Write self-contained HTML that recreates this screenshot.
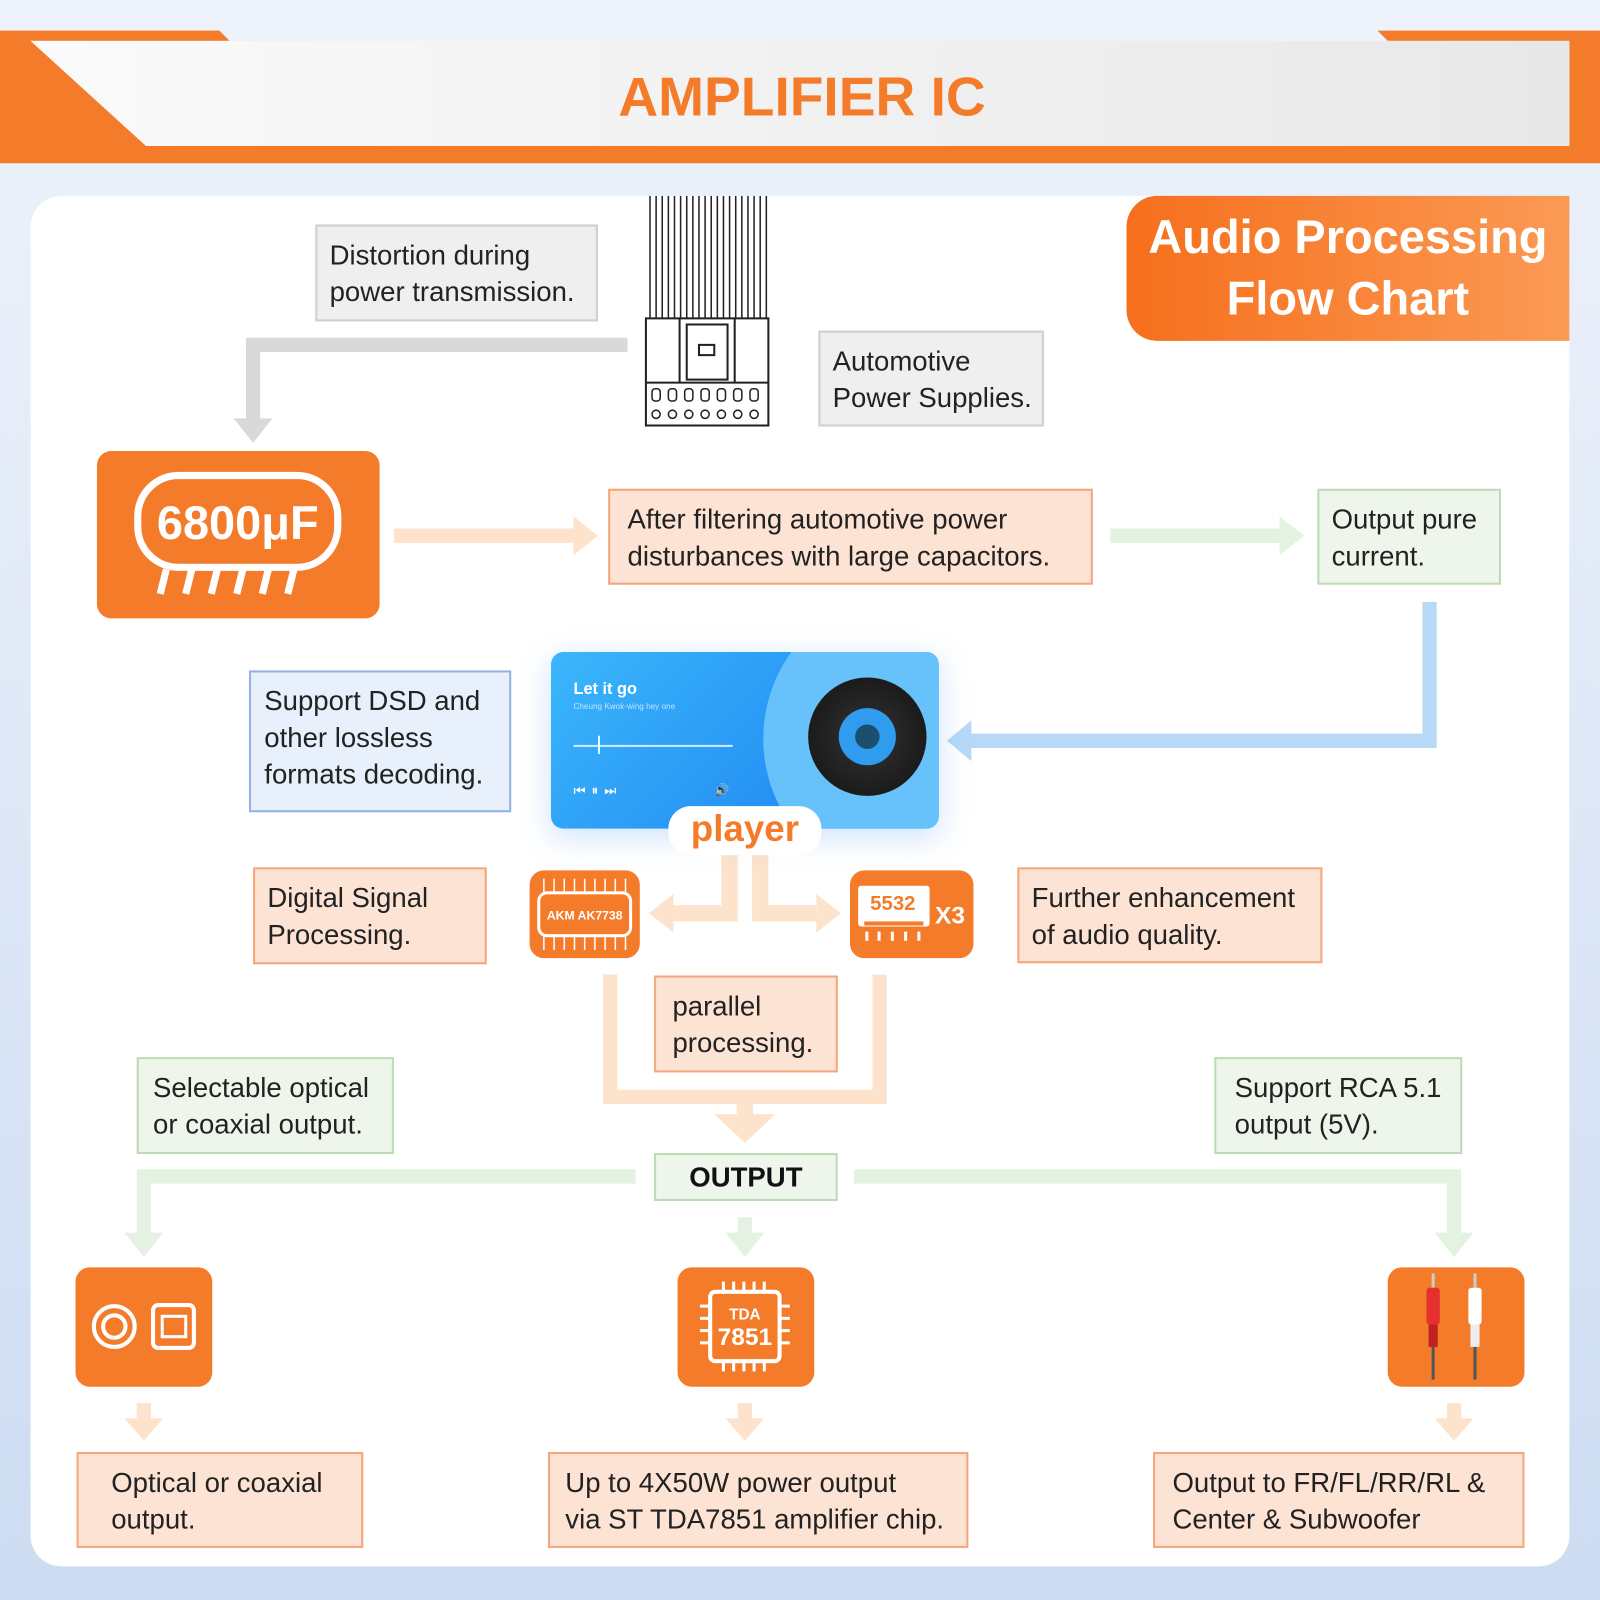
<!DOCTYPE html>
<html><head><meta charset="utf-8">
<style>
html,body{margin:0;padding:0;width:1600px;height:1600px;overflow:hidden;}
body{background:linear-gradient(#eef3fb,#cddcf2);font-family:"Liberation Sans",sans-serif;}
#w{position:absolute;left:0;top:0;width:1568px;height:1568px;transform:scale(1.0204);transform-origin:0 0;}
.a{position:absolute;box-sizing:border-box;}
.box{position:absolute;box-sizing:border-box;border:2px solid;font-size:27px;line-height:36px;color:#222;padding:10px 0 0 12px;}
.pe{background:#fde3d3;border-color:#f4a77c;}
.gr{background:#eef6ec;border-color:#bcdcb5;}
.gy{background:#efefef;border-color:#cfcfcf;}
.bl{background:#e7f0fb;border-color:#93b3e0;}
.or{background:#f47b2a;border-radius:14px;position:absolute;}
</style></head><body><div id="w">
<svg class="a" style="left:0;top:0" width="1568" height="1568">
<defs><linearGradient id="hg" x1="0" y1="0" x2="1" y2="0"><stop offset="0" stop-color="#fafafa"/><stop offset="1" stop-color="#e8e8e8"/></linearGradient></defs>
<polygon points="0,30 215,30 225,40 30,40 143,143 1538,143 1538,40 1360,40 1350,30 1568,30 1568,160 0,160" fill="#f47b2a"/>
<polygon points="30,40 1538,40 1538,143 143,143" fill="url(#hg)"/>
<rect x="30" y="192" width="1508" height="1343" rx="30" fill="#fff"/>
<path d="M615,338 H248 V415" stroke="#d9d9d9" stroke-width="14" fill="none"/>
<polygon points="229,410 267,410 248,434" fill="#d9d9d9"/>
<rect x="386" y="518" width="180" height="14" fill="#fde3cc"/>
<polygon points="562,506 586,525 562,544" fill="#fde3cc"/>
<rect x="1088" y="518" width="170" height="14" fill="#e3f2e1"/>
<polygon points="1254,506 1278,525 1254,544" fill="#e3f2e1"/>
<path d="M1401,590 V726 H950" stroke="#b7d9f7" stroke-width="14" fill="none"/>
<polygon points="952,706 928,726 952,746" fill="#b7d9f7"/>
<path d="M715,838 V895 H660 M745,838 V895 H800" stroke="#fde3cc" stroke-width="16" fill="none"/>
<polygon points="660,876 636,895 660,914" fill="#fde3cc"/>
<polygon points="800,876 824,895 800,914" fill="#fde3cc"/>
<path d="M598,955 V1075 H862 V955" stroke="#fde3cc" stroke-width="14" fill="none"/>
<rect x="722" y="1068" width="16" height="28" fill="#fde3cc"/>
<polygon points="700,1092 760,1092 730,1120" fill="#fde3cc"/>
<path d="M623,1153 H141 V1212 M837,1153 H1425 V1212" stroke="#e3f2e1" stroke-width="14" fill="none"/>
<polygon points="122,1208 160,1208 141,1232" fill="#e3f2e1"/>
<polygon points="1406,1208 1444,1208 1425,1232" fill="#e3f2e1"/>
<rect x="723" y="1193" width="14" height="18" fill="#e3f2e1"/>
<polygon points="711,1208 749,1208 730,1232" fill="#e3f2e1"/>
<g fill="#fde3cc">
<rect x="134" y="1375" width="14" height="16"/><polygon points="122,1390 160,1390 141,1412"/>
<rect x="723" y="1375" width="14" height="16"/><polygon points="711,1390 749,1390 730,1412"/>
<rect x="1418" y="1375" width="14" height="16"/><polygon points="1406,1390 1444,1390 1425,1412"/>
</g>
<g stroke="#222" stroke-width="2" fill="none">
<g stroke-width="1.5">
<line x1="637" y1="192" x2="637" y2="312"/><line x1="643" y1="192" x2="643" y2="312"/><line x1="649" y1="192" x2="649" y2="312"/><line x1="655" y1="192" x2="655" y2="312"/><line x1="661" y1="192" x2="661" y2="312"/><line x1="667" y1="192" x2="667" y2="312"/><line x1="673" y1="192" x2="673" y2="312"/><line x1="679" y1="192" x2="679" y2="312"/><line x1="685" y1="192" x2="685" y2="312"/><line x1="691" y1="192" x2="691" y2="312"/><line x1="697" y1="192" x2="697" y2="312"/><line x1="703" y1="192" x2="703" y2="312"/><line x1="709" y1="192" x2="709" y2="312"/><line x1="715" y1="192" x2="715" y2="312"/><line x1="721" y1="192" x2="721" y2="312"/><line x1="727" y1="192" x2="727" y2="312"/><line x1="733" y1="192" x2="733" y2="312"/><line x1="739" y1="192" x2="739" y2="312"/><line x1="745" y1="192" x2="745" y2="312"/><line x1="751" y1="192" x2="751" y2="312"/>
</g>
<rect x="633" y="312" width="120" height="105" fill="#fff"/>
<line x1="633" y1="375" x2="753" y2="375"/><line x1="666" y1="312" x2="666" y2="375"/><line x1="720" y1="312" x2="720" y2="375"/>
<rect x="673" y="318" width="40" height="54"/><rect x="685" y="338" width="15" height="10"/>
<g stroke-width="1.5">
<rect x="639" y="381" width="8" height="12" rx="3"/><rect x="655" y="381" width="8" height="12" rx="3"/><rect x="671" y="381" width="8" height="12" rx="3"/><rect x="687" y="381" width="8" height="12" rx="3"/><rect x="703" y="381" width="8" height="12" rx="3"/><rect x="719" y="381" width="8" height="12" rx="3"/><rect x="735" y="381" width="8" height="12" rx="3"/>
<circle cx="643" cy="406" r="4"/><circle cx="659" cy="406" r="4"/><circle cx="675" cy="406" r="4"/><circle cx="691" cy="406" r="4"/><circle cx="707" cy="406" r="4"/><circle cx="723" cy="406" r="4"/><circle cx="739" cy="406" r="4"/>
</g></g>
</svg>

<div class="a" style="left:0;top:60px;width:1572px;text-align:center;font-size:54px;font-weight:bold;color:#f47b2a;line-height:70px">AMPLIFIER IC</div>
<div class="a" style="left:1104px;top:192px;width:434px;height:142px;background:linear-gradient(90deg,#f66f1c,#fb9a55);border-radius:30px 0 0 30px;color:#fff;font-weight:bold;font-size:46px;line-height:60px;text-align:center;padding-top:10px">Audio Processing<br>Flow Chart</div>

<div class="box gy" style="left:309px;top:220px;width:277px;height:95px">Distortion during<br>power transmission.</div>
<div class="box gy" style="left:802px;top:324px;width:221px;height:94px">Automotive<br>Power Supplies.</div>

<div class="or" style="left:95px;top:442px;width:277px;height:164px"></div>
<svg class="a" style="left:95px;top:442px" width="277" height="164">
<rect x="40" y="24" width="196" height="90" rx="40" fill="none" stroke="#fff" stroke-width="7"/>
<g stroke="#fff" stroke-width="7"><line x1="68" y1="116" x2="62" y2="140"/><line x1="93" y1="116" x2="87" y2="140"/><line x1="118" y1="116" x2="112" y2="140"/><line x1="143" y1="116" x2="137" y2="140"/><line x1="168" y1="116" x2="162" y2="140"/><line x1="193" y1="116" x2="187" y2="140"/></g>
<text x="138" y="86" text-anchor="middle" font-family="Liberation Sans" font-weight="bold" font-size="46" fill="#fff">6800μF</text>
</svg>

<div class="box pe" style="left:596px;top:479px;width:475px;height:94px;padding-left:17px">After filtering automotive power<br>disturbances with large capacitors.</div>
<div class="box gr" style="left:1291px;top:479px;width:180px;height:94px">Output pure<br>current.</div>
<div class="box bl" style="left:244px;top:657px;width:257px;height:139px;padding-left:13px">Support DSD and<br>other lossless<br>formats decoding.</div>

<div class="a" style="left:540px;top:639px;width:380px;height:173px;border-radius:12px;background:linear-gradient(135deg,#3bb6fb,#1a7ff0);overflow:hidden;box-shadow:0 8px 30px rgba(60,140,240,.25)">
<div class="a" style="left:208px;top:-60px;width:290px;height:290px;border-radius:50%;background:#67c2fb"></div>
<div class="a" style="left:252px;top:25px;width:116px;height:116px;border-radius:50%;background:radial-gradient(#333,#111);"></div>
<div class="a" style="left:282px;top:55px;width:56px;height:56px;border-radius:50%;background:#2f9cf0;"></div>
<div class="a" style="left:298px;top:71px;width:24px;height:24px;border-radius:50%;background:#1c4e6e;"></div>
<div class="a" style="left:22px;top:28px;color:#fff;font-size:16px;font-weight:bold">Let it go</div>
<div class="a" style="left:22px;top:49px;color:#bfe3ff;font-size:8px">Cheung Kwok-wing hey one</div>
<div class="a" style="left:22px;top:91px;width:156px;height:2px;background:#cfeaff"></div>
<div class="a" style="left:46px;top:82px;width:2px;height:18px;background:#dff"></div>
<div class="a" style="left:22px;top:128px;color:#fff;font-size:13px;letter-spacing:6px">⏮⏸⏭</div>
<div class="a" style="left:160px;top:128px;color:#fff;font-size:12px">🔊</div>
</div>
<div class="a" style="left:655px;top:790px;width:150px;height:48px;border-radius:22px;background:#fff;text-align:center;color:#f47b2a;font-weight:bold;font-size:36px;line-height:44px">player</div>

<div class="box pe" style="left:248px;top:850px;width:229px;height:95px">Digital Signal<br>Processing.</div>
<div class="or" style="left:519px;top:853px;width:108px;height:86px"></div>
<svg class="a" style="left:519px;top:853px" width="108" height="86"><g stroke="#fff" stroke-width="1.5"><path d="M14,8V22M24,8V22M34,8V22M44,8V22M54,8V22M64,8V22M74,8V22M84,8V22M94,8V22M14,64V78M24,64V78M34,64V78M44,64V78M54,64V78M64,64V78M74,64V78M84,64V78M94,64V78"/></g><rect x="9" y="22" width="90" height="42" rx="8" fill="none" stroke="#fff" stroke-width="3"/><text x="54" y="48" text-anchor="middle" font-family="Liberation Sans" font-weight="bold" font-size="12" fill="#fff">AKM AK7738</text></svg>
<div class="or" style="left:833px;top:853px;width:121px;height:86px"></div>
<svg class="a" style="left:833px;top:853px" width="121" height="86"><rect x="8" y="15" width="70" height="40" rx="3" fill="#fff"/><rect x="14" y="50" width="58" height="4" fill="#f47b2a"/><text x="42" y="39" text-anchor="middle" font-family="Liberation Sans" font-weight="bold" font-size="20" fill="#f47b2a">5532</text><g fill="#fff"><rect x="15" y="60" width="3" height="9"/><rect x="27" y="60" width="3" height="9"/><rect x="40" y="60" width="3" height="9"/><rect x="53" y="60" width="3" height="9"/><rect x="66" y="60" width="3" height="9"/></g><text x="98" y="52" text-anchor="middle" font-family="Liberation Sans" font-weight="bold" font-size="24" fill="#fff">X3</text></svg>
<div class="box pe" style="left:997px;top:850px;width:299px;height:94px">Further enhancement<br>of audio quality.</div>
<div class="box pe" style="left:641px;top:956px;width:180px;height:95px;padding-left:16px">parallel<br>processing.</div>

<div class="box gr" style="left:134px;top:1036px;width:252px;height:95px;padding-left:14px">Selectable optical<br>or coaxial output.</div>
<div class="box gr" style="left:1190px;top:1036px;width:243px;height:95px;padding-left:18px">Support RCA 5.1<br>output (5V).</div>
<div class="box gr" style="left:641px;top:1130px;width:180px;height:47px;padding:4px 0 0 0;text-align:center;font-weight:bold;color:#111">OUTPUT</div>

<div class="or" style="left:74px;top:1242px;width:134px;height:117px"></div>
<svg class="a" style="left:74px;top:1242px" width="134" height="117"><circle cx="38" cy="58" r="20" fill="none" stroke="#fff" stroke-width="4"/><circle cx="38" cy="58" r="11" fill="none" stroke="#fff" stroke-width="4"/><rect x="76" y="37" width="40" height="42" rx="5" fill="none" stroke="#fff" stroke-width="4"/><rect x="85" y="48" width="23" height="20" fill="none" stroke="#fff" stroke-width="3"/></svg>
<div class="or" style="left:664px;top:1242px;width:134px;height:117px"></div>
<svg class="a" style="left:664px;top:1242px" width="134" height="117"><g stroke="#fff" stroke-width="3"><path d="M45,14V24M55,14V24M65,14V24M75,14V24M85,14V24M45,92V102M55,92V102M65,92V102M75,92V102M85,92V102M22,38H32M22,50H32M22,62H32M22,74H32M100,38H110M100,50H110M100,62H110M100,74H110"/></g><rect x="32" y="24" width="68" height="68" rx="5" fill="none" stroke="#fff" stroke-width="4"/><text x="66" y="51" text-anchor="middle" font-family="Liberation Sans" font-weight="bold" font-size="15" fill="#fff">TDA</text><text x="66" y="76" text-anchor="middle" font-family="Liberation Sans" font-weight="bold" font-size="24" fill="#fff">7851</text></svg>
<div class="or" style="left:1360px;top:1242px;width:134px;height:117px"></div>
<svg class="a" style="left:1360px;top:1242px" width="134" height="117"><rect x="43" y="6" width="3" height="14" fill="#ccc"/><rect x="38" y="20" width="13" height="36" rx="3" fill="#e53030"/><rect x="40" y="56" width="9" height="22" fill="#c02020"/><rect x="43" y="78" width="3" height="32" fill="#555"/><rect x="84" y="6" width="3" height="14" fill="#ccc"/><rect x="79" y="20" width="13" height="36" rx="3" fill="#fff"/><rect x="81" y="56" width="9" height="22" fill="#eee"/><rect x="84" y="78" width="3" height="32" fill="#555"/></svg>

<div class="box pe" style="left:75px;top:1423px;width:281px;height:94px;padding-left:32px">Optical or coaxial<br>output.</div>
<div class="box pe" style="left:537px;top:1423px;width:412px;height:94px;padding-left:15px">Up to 4X50W power output<br>via ST TDA7851 amplifier chip.</div>
<div class="box pe" style="left:1130px;top:1423px;width:364px;height:94px;padding-left:17px">Output to FR/FL/RR/RL &amp;<br>Center &amp; Subwoofer</div>
</div></body></html>
